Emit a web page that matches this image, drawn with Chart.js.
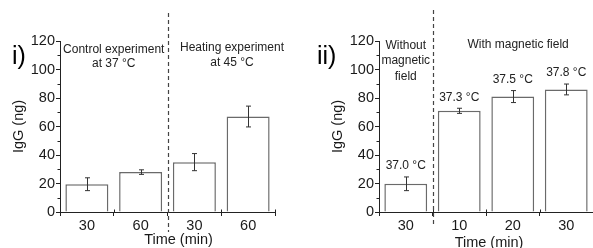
<!DOCTYPE html>
<html>
<head>
<meta charset="utf-8">
<script src="https://cdn.jsdelivr.net/npm/chart.js@4.4.0/dist/chart.umd.min.js"></script>
<style>
  html, body { margin: 0; padding: 0; background: #fff; }
  #wrap { position: relative; width: 593px; height: 248px; overflow: hidden; }
  canvas { position: absolute; top: 0; }
  #chartA { left: 0; }
  #chartB { left: 293px; }
</style>
</head>
<body>
<div id="wrap">
  <canvas id="chartA" width="293" height="248"></canvas>
  <canvas id="chartB" width="300" height="248"></canvas>
</div>
<script>
// panel i) - control vs heating
var leftLabels = ['30', '60', '30', '60'];
var leftValues = [19.5, 28, 35, 67];
var leftErrors = [4.5, 1.6, 6, 7.3];
var leftGroups = [['Control experiment', 'at 37 °C'], ['Heating experiment', 'at 45 °C']];

// panel ii) - magnetic field
var rightLabels = ['30', '10', '20', '30'];
var rightValues = [19.8, 71, 81, 86];
var rightErrors = [4.8, 1.8, 4.2, 3.8];
var rightTemps = ['37.0 °C', '37.3 °C', '37.5 °C', '37.8 °C'];
var rightGroups = [['Without', 'magnetic', 'field'], ['With magnetic field']];

var yMin = 0, yMax = 120, yStep = 20;
var xTitle = 'Time (min)';

Chart.defaults.font.family = '"Liberation Sans", Arial, sans-serif';
Chart.defaults.color = '#1a1a1a';

var INK = '#222';

function extras(cfg) {
    return {
        id: 'extras',
        afterDraw: function (chart) {
            var ctx = chart.ctx, x = chart.scales.x, y = chart.scales.y, area = chart.chartArea;
            var step = x.getPixelForValue(1) - x.getPixelForValue(0);
            ctx.save();
            ctx.strokeStyle = INK;
            ctx.lineWidth = 1;

            // minor ticks on y
            for (var v = yMin + yStep / 2; v < yMax; v += yStep) {
                var py = Math.round(y.getPixelForValue(v)) + 0.5;
                ctx.beginPath();
                ctx.moveTo(area.left - 2.5, py);
                ctx.lineTo(area.left, py);
                ctx.stroke();
            }
            // small ticks between categories
            for (var k = 1; k <= cfg.values.length; k++) {
                var bx = Math.round(x.getPixelForValue(k) - step / 2) + 0.5;
                ctx.beginPath();
                ctx.moveTo(bx, area.bottom);
                ctx.lineTo(bx, area.bottom - 2.5);
                ctx.stroke();
            }

            // error bars
            ctx.strokeStyle = '#333';
            cfg.values.forEach(function (val, i) {
                var px = Math.round(x.getPixelForValue(i)) + 0.5;
                var top = y.getPixelForValue(val + cfg.errors[i]);
                var bot = y.getPixelForValue(val - cfg.errors[i]);
                ctx.beginPath();
                ctx.moveTo(px, top); ctx.lineTo(px, bot);
                ctx.moveTo(px - 2.5, top); ctx.lineTo(px + 2.5, top);
                ctx.moveTo(px - 2.5, bot); ctx.lineTo(px + 2.5, bot);
                ctx.stroke();
            });

            // dashed divider
            var dx = Math.round(x.getPixelForValue(cfg.splitAt) - step / 2) + 0.5;
            ctx.strokeStyle = '#444';
            ctx.lineWidth = 1.2;
            ctx.setLineDash([4, 3]);
            ctx.beginPath();
            ctx.moveTo(dx, cfg.dividerTop);
            ctx.lineTo(dx, cfg.dividerBottom);
            ctx.stroke();
            ctx.setLineDash([]);

            // text
            ctx.fillStyle = INK;
            ctx.textAlign = 'center';
            ctx.textBaseline = 'middle';
            ctx.font = '12px "Liberation Sans", Arial, sans-serif';
            cfg.notes.forEach(function (n) {
                var nx = x.getPixelForValue(n.at);
                n.lines.forEach(function (line, j) {
                    ctx.fillText(line, nx, y.getPixelForValue(n.value) + j * n.gap);
                });
            });
            if (cfg.temps) {
                cfg.temps.forEach(function (t, i) {
                    var top = y.getPixelForValue(cfg.values[i] + cfg.errors[i]);
                    ctx.fillText(t, x.getPixelForValue(i), top - 11);
                });
            }

            // x axis title
            ctx.font = '14.5px "Liberation Sans", Arial, sans-serif';
            ctx.fillStyle = '#1a1a1a';
            ctx.fillText(xTitle, (area.left + area.right) / 2 + cfg.titleShift, cfg.titleY);

            // panel label
            ctx.textAlign = 'left';
            ctx.font = '25px "Liberation Sans", Arial, sans-serif';
            ctx.fillStyle = '#000';
            ctx.fillText(cfg.panel, cfg.panelX, 57);
            ctx.restore();
        }
    };
}

function makeChart(id, labels, values, padLeft, padRight, plugin) {
    return new Chart(document.getElementById(id).getContext('2d'), {
        type: 'bar',
        data: {
            labels: labels,
            datasets: [{
                data: values,
                backgroundColor: '#ffffff',
                borderColor: '#6a6a6a',
                borderWidth: 1.5,
                categoryPercentage: 1,
                barPercentage: 0.8
            }]
        },
        options: {
            responsive: false,
            animation: false,
            layout: { padding: { left: padLeft, right: padRight, top: 41, bottom: 0 } },
            plugins: { legend: { display: false }, tooltip: { enabled: false } },
            scales: {
                x: {
                    offset: true,
                    grid: { drawOnChartArea: false, tickLength: 4, color: INK },
                    border: { color: INK, width: 1 },
                    ticks: { font: { size: 14.5 }, padding: 1, maxRotation: 0 },
                    afterFit: function (s) { s.height = 36; }
                },
                y: {
                    min: yMin,
                    max: yMax,
                    grid: { drawOnChartArea: false, tickLength: 4, color: INK },
                    border: { color: INK, width: 1 },
                    ticks: { stepSize: yStep, font: { size: 14.5 }, padding: 1 },
                    title: { display: true, text: 'IgG (ng)', font: { size: 14.5 }, padding: { top: 10, bottom: 0 } },
                    afterFit: function (s) { s.width = 60; }
                }
            }
        },
        plugins: [plugin]
    });
}

makeChart('chartA', leftLabels, leftValues, 0, 18, extras({
    values: leftValues, errors: leftErrors, splitAt: 2, dividerTop: 13, dividerBottom: 232,
    panel: 'i)', panelX: 12, titleShift: 11, titleY: 240,
    notes: [
        { lines: leftGroups[0], at: 0.5, value: 114, gap: 14 },
        { lines: leftGroups[1], at: 2.7, value: 115.5, gap: 15 }
    ]
}));

makeChart('chartB', rightLabels, rightValues, 26, 0, extras({
    values: rightValues, errors: rightErrors, splitAt: 1, dividerTop: 10, dividerBottom: 225,
    panel: 'ii)', panelX: 24, temps: rightTemps, titleShift: 3, titleY: 243,
    notes: [
        { lines: rightGroups[0], at: 0, value: 117, gap: 15.5 },
        { lines: rightGroups[1], at: 2.1, value: 117.5, gap: 0 }
    ]
}));
</script>
</body>
</html>
